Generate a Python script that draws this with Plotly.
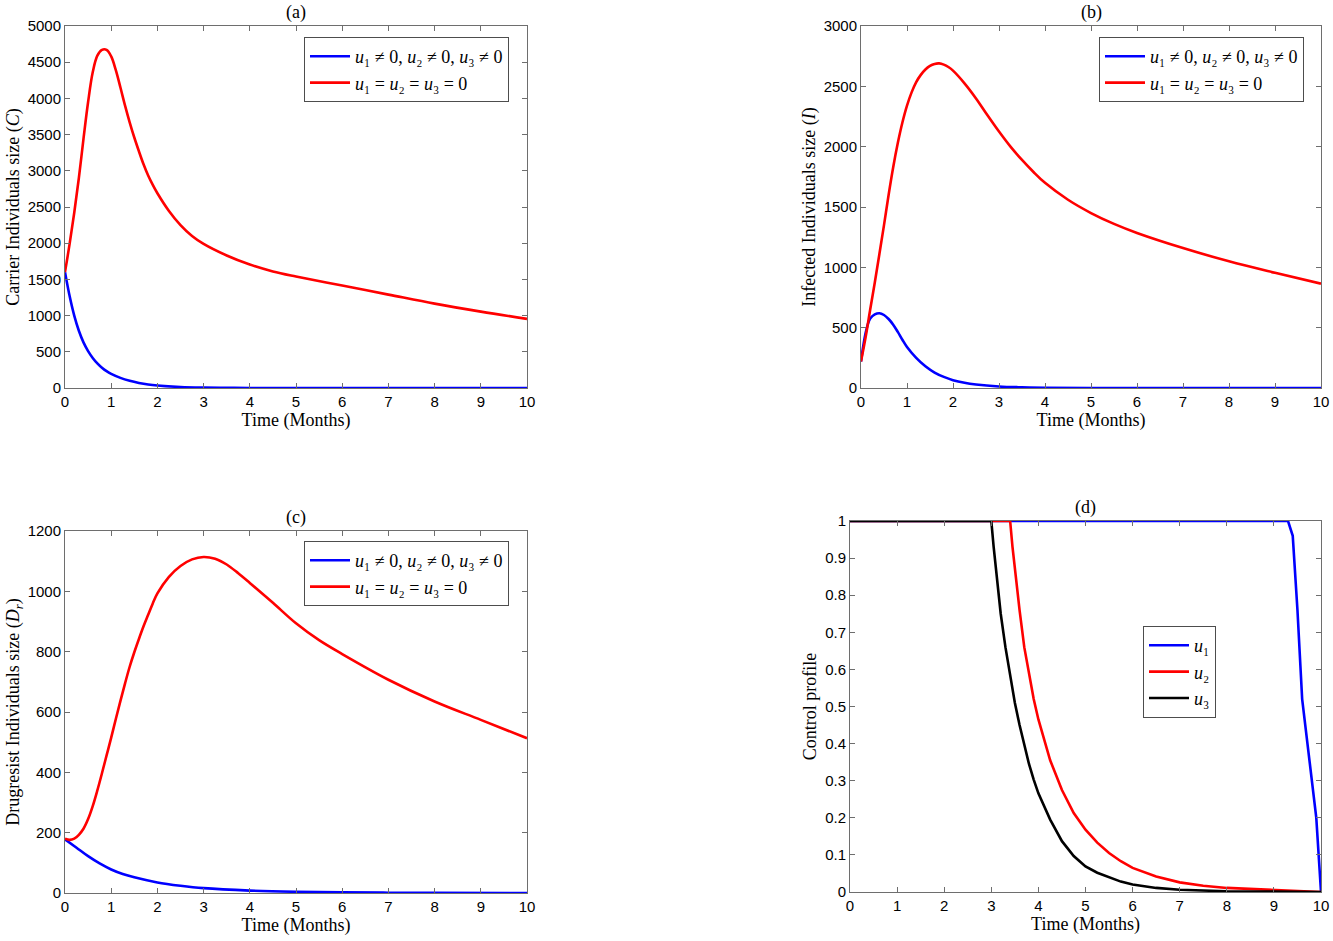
import plotly.graph_objects as go

# ---- data ----

# (a) carrier individuals C
t_c_ctrl = [0, 0.1, 0.2, 0.3, 0.4, 0.5, 0.6, 0.7, 0.8, 0.9, 1.0, 1.2, 1.4, 1.6, 1.8, 2.0, 2.5, 3, 3.5, 4, 5, 10]
c_ctrl = [1600, 1270, 1000, 790, 630, 510, 415, 340, 280, 232, 195, 140, 100, 70, 48, 34, 14, 6, 3, 1, 0, 0]
t_c_none = [0, 0.1, 0.2, 0.3, 0.4, 0.5, 0.6, 0.7, 0.8, 0.9, 1.0, 1.1, 1.2, 1.3, 1.4, 1.5, 1.6, 1.7, 1.8, 1.9,
            2.0, 2.25, 2.5, 2.75, 3, 3.5, 4, 4.5, 5, 6, 7, 8, 9, 10]
c_none = [1600, 1990, 2420, 2900, 3440, 3950, 4360, 4590, 4670, 4670, 4580, 4390, 4150, 3900, 3670, 3460,
          3270, 3090, 2935, 2805, 2690, 2445, 2250, 2100, 1990, 1830, 1705, 1610, 1540, 1415, 1290, 1165,
          1055, 955]

# (b) infected individuals I
t_i_ctrl = [0, 0.05, 0.1, 0.15, 0.2, 0.3, 0.4, 0.5, 0.6, 0.7, 0.8, 0.9, 1.0, 1.2, 1.4, 1.6, 1.8, 2.0,
            2.25, 2.5, 3, 3.5, 4, 5, 10]
i_ctrl = [220, 350, 455, 530, 575, 610, 620, 605, 572, 525, 465, 400, 340, 250, 180, 128, 92, 65,
          43, 29, 13, 6, 2, 0, 0]
t_i_none = [0, 0.1, 0.2, 0.3, 0.4, 0.5, 0.6, 0.7, 0.8, 0.9, 1.0, 1.1, 1.2, 1.3, 1.4, 1.5, 1.6, 1.7, 1.8,
            1.9, 2.0, 2.25, 2.5, 2.75, 3, 3.25, 3.5, 3.75, 4, 4.5, 5, 5.5, 6, 7, 8, 9, 10]
i_none = [220, 420, 650, 875, 1110, 1350, 1600, 1830, 2030, 2200, 2340, 2450, 2535, 2595, 2640, 2670,
          2686, 2690, 2680, 2660, 2630, 2525, 2400, 2260, 2125, 2000, 1890, 1790, 1700, 1560, 1450,
          1360, 1285, 1160, 1050, 955, 865]

# (c) drug-resistant individuals Dr
t_d_ctrl = [0, 0.25, 0.5, 0.75, 1, 1.25, 1.5, 2, 2.5, 3, 4, 5, 6, 7, 8, 10]
d_ctrl = [178, 150, 122, 98, 78, 63, 52, 35, 24, 16, 8, 4, 2, 1, 0.5, 0]
t_d_none = [0, 0.1, 0.2, 0.3, 0.4, 0.5, 0.6, 0.7, 0.8, 0.9, 1.0, 1.1, 1.2, 1.3, 1.4, 1.5, 1.6, 1.7,
            1.8, 1.9, 2.0, 2.25, 2.5, 2.75, 3, 3.25, 3.5, 3.75, 4, 4.5, 5, 5.5, 6, 7, 8, 9, 10]
d_none = [180, 176, 180, 193, 213, 245, 288, 340, 397, 456, 515, 577, 637, 695, 750, 798, 842, 884,
          922, 960, 993, 1048, 1084, 1106, 1114, 1108, 1089, 1060, 1028, 962, 894, 838, 792, 707,
          635, 574, 513]

# (d) control profiles
t_u1 = [0, 9.3, 9.4, 9.5, 9.6, 9.7, 9.8, 9.9, 10]
u1 = [1, 1, 0.96, 0.76, 0.52, 0.41, 0.30, 0.20, 0]
t_u2 = [0, 3.4, 3.45, 3.5, 3.55, 3.6, 3.7, 3.8, 3.9, 4.0, 4.1, 4.25, 4.5, 4.75, 5, 5.25, 5.5, 5.75,
        6, 6.5, 7, 7.5, 8, 9, 10]
u2 = [1, 1, 0.93, 0.87, 0.815, 0.76, 0.66, 0.585, 0.52, 0.465, 0.418, 0.355, 0.275, 0.213, 0.168,
      0.133, 0.105, 0.083, 0.065, 0.042, 0.026, 0.017, 0.011, 0.006, 0]
t_u3 = [0, 3.0, 3.05, 3.1, 3.15, 3.2, 3.3, 3.4, 3.5, 3.6, 3.7, 3.8, 3.9, 4.0, 4.25, 4.5, 4.75, 5,
        5.25, 5.5, 5.75, 6, 6.5, 7, 8, 9, 10]
u3 = [1, 1, 0.93, 0.865, 0.805, 0.75, 0.66, 0.58, 0.51, 0.45, 0.395, 0.345, 0.303, 0.266, 0.195,
      0.137, 0.097, 0.069, 0.052, 0.039, 0.028, 0.02, 0.011, 0.006, 0.002, 0.001, 0]

label_ctrl = "<i>u</i>₁ ≠ 0, <i>u</i>₂ ≠ 0, <i>u</i>₃ ≠ 0"
label_none = "<i>u</i>₁ = <i>u</i>₂ = <i>u</i>₃ = 0"

W, H = 1333, 941
SERIF = "Liberation Serif, Times New Roman, serif"
SANS = "Liberation Sans, Arial, sans-serif"
AXIS_GREY = "#6e6e6e"


def px_dom_x(x0, x1):
    return [x0 / W, x1 / W]


def px_dom_y(top, bottom):
    return [1 - bottom / H, 1 - top / H]


def axis(domain, anchor, rng, dtick, title):
    return dict(
        domain=domain, anchor=anchor, range=rng, dtick=dtick, tick0=0,
        showline=True, linecolor=AXIS_GREY, linewidth=1, mirror="ticks",
        ticks="inside", ticklen=5, tickcolor=AXIS_GREY,
        showgrid=False, zeroline=False, automargin=False,
        tickfont=dict(family=SANS, size=15, color="black"),
        title=dict(text=title, font=dict(family=SERIF, size=18, color="black"), standoff=3),
    )


fig = go.Figure()


def line(x, y, color, name, xa, ya, legend, shape="spline"):
    fig.add_trace(go.Scatter(
        x=x, y=y, mode="lines", name=name,
        line=dict(color=color, width=2.6, shape=shape, smoothing=1.0),
        xaxis=xa, yaxis=ya, legend=legend, showlegend=True,
    ))


line(t_c_ctrl, c_ctrl, "#0000ff", label_ctrl, "x", "y", "legend")
line(t_c_none, c_none, "#ff0000", label_none, "x", "y", "legend")
line(t_i_ctrl, i_ctrl, "#0000ff", label_ctrl, "x2", "y2", "legend2")
line(t_i_none, i_none, "#ff0000", label_none, "x2", "y2", "legend2")
line(t_d_ctrl, d_ctrl, "#0000ff", label_ctrl, "x3", "y3", "legend3")
line(t_d_none, d_none, "#ff0000", label_none, "x3", "y3", "legend3")
line(t_u1, u1, "#0000ff", "<i>u</i>₁", "x4", "y4", "legend4", shape="linear")
line(t_u2, u2, "#ff0000", "<i>u</i>₂", "x4", "y4", "legend4", shape="linear")
line(t_u3, u3, "#000000", "<i>u</i>₃", "x4", "y4", "legend4", shape="linear")

leg_common = dict(
    xanchor="left", yanchor="top", bgcolor="white",
    bordercolor="#4d4d4d", borderwidth=1,
    font=dict(family=SERIF, size=18, color="black"),
    itemwidth=40, tracegroupgap=0,
)

fig.update_layout(
    width=W, height=H,
    margin=dict(l=0, r=0, t=0, b=0),
    paper_bgcolor="white", plot_bgcolor="white",
    xaxis=axis(px_dom_x(65, 527), "y", [0, 10], 1, "Time (Months)"),
    yaxis=axis(px_dom_y(26, 388), "x", [0, 5000], 500, "Carrier Individuals size (<i>C</i>)"),
    xaxis2=axis(px_dom_x(861, 1321), "y2", [0, 10], 1, "Time (Months)"),
    yaxis2=axis(px_dom_y(26, 388), "x2", [0, 3000], 500, "Infected Individuals size (<i>I</i>)"),
    xaxis3=axis(px_dom_x(65, 527), "y3", [0, 10], 1, "Time (Months)"),
    yaxis3=axis(px_dom_y(531, 893), "x3", [0, 1200], 200,
                "Drugresist Individuals size (<i>D<sub>r</sub></i>)"),
    xaxis4=axis(px_dom_x(850, 1321), "y4", [0, 10], 1, "Time (Months)"),
    yaxis4=axis(px_dom_y(521, 892), "x4", [0, 1], 0.1, "Control profile"),
    legend=dict(x=304 / W, y=1 - 37 / H, **leg_common),
    legend2=dict(x=1099 / W, y=1 - 37 / H, **leg_common),
    legend3=dict(x=304 / W, y=1 - 541 / H, **leg_common),
    legend4=dict(x=1143 / W, y=1 - 626 / H, **leg_common),
)

for txt, xc, yc in [("(a)", 296, 13), ("(b)", 1091, 13), ("(c)", 296, 517), ("(d)", 1085, 507)]:
    fig.add_annotation(text=txt, x=xc / W, y=1 - yc / H, xref="paper", yref="paper",
                       showarrow=False, xanchor="center", yanchor="middle",
                       font=dict(family=SERIF, size=18, color="black"))

# page body has a default 8px margin; drop it so the figure sits at the window origin
fig.write_html("out.html", config={"displayModeBar": False},
               post_script="document.body.style.margin='0';document.body.style.overflow='hidden';")
